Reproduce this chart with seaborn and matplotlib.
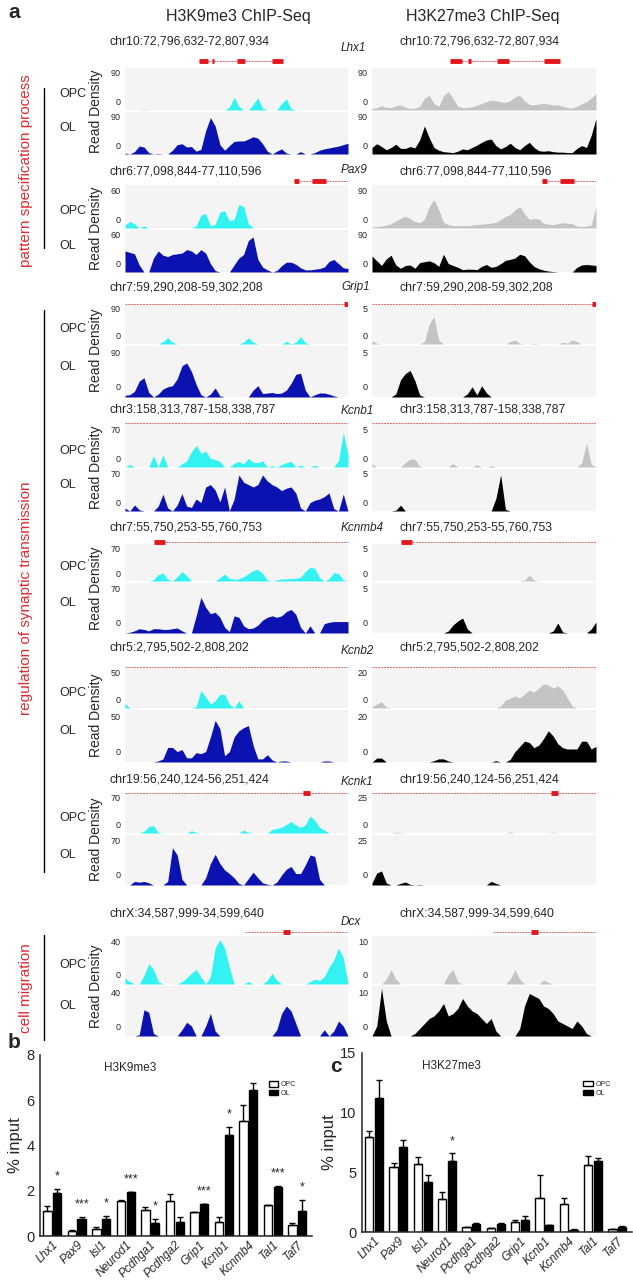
import numpy as np
import pandas as pd
import seaborn as sns
import matplotlib.pyplot as plt

sns.set_style('white')
plt.rcParams['font.family'] = ['Liberation Sans', 'DejaVu Sans']

W, H = 633, 1280

## ChIP-Seq read density tracks (48 bins across each locus)
lhx1_k9_opc = [0, 0, 0, 0, 1, 0, 0, 0, 0, 0,
               0, 0, 0, 0, 0, 0, 0, 0, 0, 0,
               0, 0, 6, 27, 8, 0, 0, 12, 26, 4,
               0, 0, 0, 14, 24, 3, 0, 0, 0, 0,
               0, 0, 0, 0, 0, 0, 0, 0]
lhx1_k9_ol = [2, 0, 5, 17, 15, 3, 0, 1, 0, 0,
              8, 20, 22, 15, 16, 6, 10, 50, 78, 60,
              20, 8, 18, 27, 28, 28, 32, 37, 34, 22,
              6, 0, 6, 11, 2, 0, 0, 5, 0, 0,
              3, 8, 11, 13, 15, 17, 20, 23]
lhx1_k27_opc = [3, 5, 9, 6, 5, 9, 11, 6, 3, 4,
                8, 25, 31, 14, 8, 30, 40, 25, 8, 5,
                5, 7, 10, 14, 18, 21, 20, 18, 16, 20,
                28, 31, 20, 12, 11, 13, 14, 13, 11, 11,
                8, 5, 4, 8, 13, 18, 26, 35]
lhx1_k27_ol = [14, 22, 16, 9, 14, 21, 12, 12, 16, 13,
               30, 60, 35, 14, 8, 5, 4, 3, 6, 11,
               9, 14, 19, 25, 30, 32, 18, 11, 16, 23,
               14, 9, 18, 25, 14, 7, 6, 7, 5, 4,
               4, 3, 3, 12, 18, 14, 40, 76]

pax9_k9_opc = [4, 9, 6, 0, 3, 0, 0, 0, 0, 0,
               0, 0, 0, 0, 0, 3, 18, 20, 3, 5,
               22, 24, 10, 12, 33, 30, 6, 0, 0, 0,
               0, 0, 0, 0, 0, 0, 0, 0, 0, 0,
               0, 0, 0, 0, 0, 0, 0, 0]
pax9_k9_ol = [30, 28, 26, 10, 0, 0, 20, 30, 24, 22,
              25, 26, 27, 32, 30, 25, 32, 27, 12, 2,
              0, 0, 0, 10, 20, 25, 45, 50, 18, 7,
              3, 0, 2, 9, 14, 14, 11, 6, 3, 3,
              4, 5, 7, 15, 18, 12, 6, 5]
pax9_k27_opc = [2, 3, 4, 6, 9, 15, 20, 25, 20, 14,
                11, 18, 45, 60, 38, 12, 7, 5, 5, 5,
                5, 6, 7, 8, 9, 10, 12, 18, 24, 28,
                38, 45, 30, 18, 20, 19, 10, 8, 7, 9,
                11, 10, 9, 4, 3, 4, 6, 45]
pax9_k27_ol = [34, 24, 14, 28, 36, 15, 8, 14, 15, 8,
               20, 22, 24, 20, 12, 38, 18, 14, 10, 5,
               6, 6, 5, 12, 16, 10, 12, 18, 25, 27,
               30, 38, 35, 22, 12, 7, 4, 2, 1, 0,
               0, 0, 0, 10, 15, 16, 15, 14]

grip1_k9_opc = [0, 0, 0, 0, 0, 0, 0, 0, 5, 14,
                4, 0, 0, 0, 0, 0, 0, 0, 0, 0,
                0, 0, 0, 0, 0, 4, 14, 4, 0, 0,
                0, 0, 0, 0, 6, 0, 4, 16, 3, 0,
                0, 0, 0, 0, 0, 0, 0, 0]
grip1_k9_ol = [3, 4, 10, 28, 34, 8, 0, 5, 14, 18,
               20, 32, 55, 60, 45, 22, 4, 0, 5, 16,
               2, 0, 0, 0, 0, 0, 0, 12, 20, 6,
               7, 8, 6, 7, 12, 24, 40, 42, 12, 0,
               4, 7, 7, 5, 2, 0, 0, 0]
grip1_k27_opc = [0.4, 0.1, 0, 0, 0, 0, 0, 0, 0, 0,
                 0, 0.3, 2.5, 3.4, 0.5, 0, 0, 0, 0, 0,
                 0, 0, 0, 0, 0, 0, 0, 0, 0, 0.3,
                 0.5, 0.1, 0, 0, 0.1, 0, 0, 0, 0, 0,
                 0.2, 0.1, 0.5, 0.3, 0, 0, 0, 0]
grip1_k27_ol = [0, 0, 0, 0, 0, 0.3, 1.7, 2.3, 2.6, 1.6,
                0.2, 0, 0, 0, 0, 0, 0, 0, 0, 0,
                0.3, 1.0, 0.2, 1.1, 0.4, 0, 0, 0, 0, 0,
                0, 0, 0, 0, 0, 0, 0, 0, 0, 0,
                0, 0, 0, 0, 0, 0, 0, 0]

kcnb1_k9_opc = [0, 4, 0, 0, 0, 0, 18, 0, 20, 0,
                0, 0, 5, 10, 25, 35, 22, 26, 14, 12,
                9, 0, 0, 6, 9, 5, 14, 8, 7, 10,
                0, 2, 0, 4, 7, 9, 0, 3, 0, 0,
                3, 0, 0, 0, 0, 10, 56, 20]
kcnb1_k9_ol = [5, 0, 10, 2, 0, 0, 0, 8, 28, 5,
               0, 10, 29, 8, 6, 20, 14, 40, 44, 35,
               15, 40, 0, 20, 60, 48, 44, 40, 44, 60,
               50, 44, 40, 34, 38, 40, 30, 5, 0, 14,
               18, 20, 24, 30, 4, 0, 28, 0]
kcnb1_k27_opc = [0.4, 0, 0, 0, 0, 0, 0, 0.5, 0.9, 0.9,
                 0.1, 0, 0, 0, 0, 0, 0, 0.4, 0, 0,
                 0, 0, 0.25, 0, 0, 0.15, 0, 0, 0, 0,
                 0, 0, 0, 0, 0, 0, 0, 0, 0, 0,
                 0, 0, 0, 0, 0.5, 2.8, 0.3, 0]
kcnb1_k27_ol = [0, 0, 0, 0, 0, 0.1, 0.7, 0, 0, 0,
                0, 0, 0, 0, 0, 0, 0, 0, 0, 0,
                0, 0, 0, 0, 0, 0, 1.5, 4.3, 0.2, 0,
                0, 0, 0, 0, 0, 0, 0, 0, 0, 0,
                0, 0, 0, 0, 0, 0, 0, 0]

kcnmb4_k9_opc = [0, 0, 0, 0, 0, 0, 2, 12, 15, 3,
                 0, 8, 18, 10, 0, 0, 0, 0, 0, 0,
                 6, 13, 5, 3, 4, 8, 14, 20, 22, 14,
                 2, 0, 2, 4, 4, 5, 5, 7, 18, 26,
                 24, 6, 0, 4, 16, 14, 2, 0]
kcnmb4_k9_ol = [0, 1, 3, 6, 5, 3, 6, 6, 5, 5,
                6, 7, 3, 0, 0, 24, 50, 36, 27, 29,
                22, 8, 2, 24, 22, 10, 6, 7, 11, 18,
                22, 24, 22, 24, 30, 33, 26, 8, 0, 10,
                0, 0, 13, 15, 16, 16, 16, 16]
kcnmb4_k27_opc = [0, 0, 0, 0, 0, 0, 0, 0, 0, 0,
                  0, 0, 0, 0, 0, 0, 0, 0, 0, 0,
                  0, 0, 0, 0, 0, 0, 0, 0, 0, 0,
                  0, 0, 0.1, 0.8, 0.1, 0, 0, 0, 0, 0,
                  0, 0, 0, 0, 0, 0, 0, 0]
kcnmb4_k27_ol = [0, 0, 0, 0, 0, 0, 0, 0, 0, 0,
                 0, 0, 0, 0, 0, 0, 0.2, 0.8, 1.2, 1.5,
                 0.4, 0, 0, 0, 0, 0, 0, 0, 0, 0,
                 0, 0, 0, 0, 0, 0, 0, 0, 0.2, 1.0,
                 0.1, 0, 0, 0, 0, 0, 0.4, 1.1]

kcnb2_k9_opc = [6, 0, 0, 0, 0, 0, 0, 0, 0, 0,
                0, 0, 0, 0, 0, 2, 22, 14, 5, 9,
                17, 17, 5, 0, 9, 0, 0, 0, 0, 0,
                0, 0, 0, 0, 0, 0, 0, 0, 0, 0,
                0, 0, 0, 0, 0, 0, 0, 0]
kcnb2_k9_ol = [0, 0, 0, 0, 0, 0, 0, 1, 3, 14,
               14, 10, 12, 4, 4, 9, 8, 10, 24, 40,
               32, 6, 10, 24, 30, 33, 35, 16, 3, 3,
               7, 2, 0, 1, 1, 0, 0, 0, 0, 0,
               0, 0, 1, 1, 0, 0, 0, 0]
kcnb2_k27_opc = [0.5, 2, 3, 0.5, 0, 0, 0, 0, 0, 0,
                 0, 0, 0, 0, 0, 0, 0, 0, 0, 0,
                 0, 0, 0, 0, 0, 0, 0, 1, 4, 5,
                 6, 5, 7, 9, 8, 10, 12, 11.5, 10, 11,
                 9, 5, 1, 0, 0, 0, 0, 0]
kcnb2_k27_ol = [0, 1.5, 1.5, 0, 0, 0, 0, 0, 0, 0,
                0, 0, 0, 0.5, 1.2, 1.2, 0.4, 0, 0, 0,
                0, 0, 0, 0, 0, 0, 0.5, 0, 0, 1,
                4, 6, 8, 7.5, 5.5, 6.5, 9, 12, 10, 7,
                5.5, 5, 5, 5, 8, 8, 5, 6]

kcnk1_k9_opc = [0, 0, 0, 0, 3, 11, 13, 1, 0, 0,
                0, 0, 0, 0, 4, 1, 0, 0, 0, 0,
                0, 0, 0, 0, 0, 5, 1, 0, 0, 0,
                0, 6, 8, 10, 15, 20, 14, 10, 14, 30,
                22, 10, 5, 0, 0, 0, 0, 0]
kcnk1_k9_ol = [0, 0, 5, 4, 5, 3, 0, 0, 0, 5,
               52, 42, 8, 0, 0, 0, 0, 10, 30, 43,
               30, 21, 16, 10, 2, 0, 9, 18, 10, 3,
               1, 0, 4, 14, 22, 26, 16, 16, 28, 42,
               40, 8, 0, 0, 0, 0, 0, 0]
kcnk1_k27_opc = [0, 0, 0, 0, 0, 0.5, 0.3, 0, 0, 0,
                 0, 0, 0, 0, 0, 0, 0, 0, 0, 0,
                 0, 0, 0, 0, 0, 0, 0, 0, 0, 0.6,
                 0, 0, 0, 0, 0, 0, 0, 0, 0.4, 0,
                 0, 0, 0, 0, 0, 0, 0, 0]
kcnk1_k27_ol = [1, 6, 7, 1, 0, 0, 0.8, 1.5, 0.3, 0,
                0.2, 0, 0, 0, 0, 0, 0, 0, 0, 0,
                0, 0, 0, 0, 0, 1.8, 0.8, 0, 0, 0,
                0, 0, 0, 0, 0, 0, 0, 0, 0, 0,
                0, 0, 0, 0, 0, 0, 0, 0]

dcx_k9_opc = [5, 2, 0, 0, 7, 17, 12, 2, 0, 0,
              0, 0, 2, 5, 9, 12, 6, 0, 6, 30,
              37, 30, 14, 0, 0, 0, 2, 0, 0, 0,
              3, 9, 3, 0, 0, 0, 0, 0, 0, 2,
              4, 3, 6, 14, 20, 30, 22, 0]
dcx_k9_ol = [0, 0, 0, 1, 21, 19, 2, 0, 0, 0,
             0, 0, 5, 11, 8, 0, 0, 8, 18, 4,
             0, 0, 0, 0, 0, 0, 0, 0, 0, 0,
             0, 0, 5, 18, 24, 20, 10, 0, 0, 0,
             0, 0, 5, 0, 4, 12, 8, 0]
dcx_k27_opc = [0, 0, 0, 1, 3, 1, 0, 0, 0, 0,
               0, 0, 0, 0, 0, 0, 2, 3, 0.5, 0,
               0, 0, 0, 0, 0, 0, 0, 0, 0, 1,
               3, 1, 0, 0, 0, 0, 0.8, 0.3, 0, 0,
               0, 0, 0, 0, 0, 0, 0, 0]
dcx_k27_ol = [0, 2, 9.5, 3, 0, 0, 0, 0, 0, 0.5,
              1.5, 2.5, 3.5, 4, 5, 6.5, 4, 4.5, 5.5, 7.5,
              6, 5, 4.5, 3.5, 2.5, 3.5, 1, 0, 0, 0,
              0, 1.5, 6, 8.5, 8, 7.5, 6, 5.5, 4.5, 3,
              2.5, 2, 1.5, 3, 2, 0.5, 0, 0]

loci = ['Lhx1', 'Pax9', 'Grip1', 'Kcnb1', 'Kcnmb4', 'Kcnb2', 'Kcnk1', 'Dcx']
regions = ['chr10:72,796,632-72,807,934', 'chr6:77,098,844-77,110,596',
           'chr7:59,290,208-59,302,208', 'chr3:158,313,787-158,338,787',
           'chr7:55,750,253-55,760,753', 'chr5:2,795,502-2,808,202',
           'chr19:56,240,124-56,251,424', 'chrX:34,587,999-34,599,640']
k9_max = [90, 60, 90, 70, 70, 50, 70, 40]
k27_max = [90, 90, 5, 5, 5, 20, 25, 10]
k9_opc_tracks = [lhx1_k9_opc, pax9_k9_opc, grip1_k9_opc, kcnb1_k9_opc, kcnmb4_k9_opc, kcnb2_k9_opc, kcnk1_k9_opc, dcx_k9_opc]
k9_ol_tracks = [lhx1_k9_ol, pax9_k9_ol, grip1_k9_ol, kcnb1_k9_ol, kcnmb4_k9_ol, kcnb2_k9_ol, kcnk1_k9_ol, dcx_k9_ol]
k27_opc_tracks = [lhx1_k27_opc, pax9_k27_opc, grip1_k27_opc, kcnb1_k27_opc, kcnmb4_k27_opc, kcnb2_k27_opc, kcnk1_k27_opc, dcx_k27_opc]
k27_ol_tracks = [lhx1_k27_ol, pax9_k27_ol, grip1_k27_ol, kcnb1_k27_ol, kcnmb4_k27_ol, kcnb2_k27_ol, kcnk1_k27_ol, dcx_k27_ol]

# gene models (fraction of locus)
gene_spans = [(0.33, 0.71), (0.76, 1.0), (0.0, 1.0), (0.0, 1.0), (0.13, 1.0), (0.0, 1.0), (0.0, 1.0), (0.54, 1.0)]
gene_exons = [[(0.33, 0.37), (0.39, 0.40), (0.50, 0.54), (0.66, 0.71)], [(0.76, 0.78), (0.84, 0.90)],
              [(0.98, 1.0)], [], [(0.13, 0.18)], [], [(0.80, 0.83)], [(0.71, 0.74)]]
gene_spans_k27 = [(0.35, 0.84)] + gene_spans[1:]
gene_exons_k27 = [[(0.35, 0.40), (0.43, 0.44), (0.56, 0.61), (0.77, 0.84)]] + gene_exons[1:]

## qPCR % input
bar_genes = ['Lhx1', 'Pax9', 'Isl1', 'Neurod1', 'Pcdhga1', 'Pcdhga2', 'Grip1', 'Kcnb1', 'Kcnmb4', 'Tal1', 'Taf7']
k9_opc = [1.1, 0.22, 0.3, 1.56, 1.14, 1.56, 1.05, 0.62, 5.07, 1.36, 0.47]
k9_opc_err = [0.22, 0.03, 0.1, 0.04, 0.15, 0.28, 0.02, 0.22, 0.7, 0.02, 0.12]
k9_ol = [1.91, 0.74, 0.74, 1.93, 0.59, 0.64, 1.41, 4.47, 6.44, 2.18, 1.11]
k9_ol_err = [0.16, 0.1, 0.15, 0.02, 0.16, 0.22, 0.02, 0.36, 0.33, 0.03, 0.47]
k9_stars = ['*', '***', '*', '***', '*', '', '***', '*', '', '***', '*']
k27_opc = [7.98, 5.46, 5.66, 2.75, 0.42, 0.34, 0.81, 2.86, 2.38, 5.63, 0.22]
k27_opc_err = [0.48, 0.34, 0.64, 0.6, 0.04, 0.03, 0.2, 1.9, 0.5, 0.78, 0.03]
k27_ol = [11.2, 7.14, 4.2, 5.94, 0.67, 0.7, 1.04, 0.56, 0.2, 5.94, 0.42]
k27_ol_err = [1.55, 0.56, 0.56, 0.64, 0.05, 0.06, 0.27, 0.03, 0.02, 0.25, 0.05]
k27_stars = ['', '', '', '*', '', '', '', '', '', '', '']


def rect(x0, y0, x1, y1):
    return [x0 / W, 1 - y1 / H, (x1 - x0) / W, (y1 - y0) / H]


def ftext(x, y, s, **kw):
    fig.text(x / W, 1 - y / H, s, **kw)


fig = plt.figure(figsize=(W / 100, H / 100), dpi=100)

track_rows = [(68, 110, 154), (185, 228, 272), (304, 344, 397), (424, 467, 511),
              (544, 581, 633), (668, 708, 762), (793, 833, 885), (936, 984, 1036)]
gene_y = [61, 181, 304, 423, 542, 667, 793, 932]
chr_y = [42, 172, 287, 409, 528, 648, 779, 913]
name_y = [48, 170, 287, 411, 528, 651, 782, 922]

for i in range(8):
    top, mid, bot = track_rows[i]
    cols = [(125, 348, k9_max[i], k9_opc_tracks[i], k9_ol_tracks[i], '#33f2f2', '#0b12b0', gene_spans[i], gene_exons[i]),
            (372, 596, k27_max[i], k27_opc_tracks[i], k27_ol_tracks[i], '#c4c4c4', 'black', gene_spans_k27[i], gene_exons_k27[i])]
    for x0, x1, ymax, opc, ol, c_opc, c_ol, span, exons in cols:
        for (y0, y1), vals, c in [((top, mid), opc, c_opc), ((mid + 2, bot), ol, c_ol)]:
            ax = fig.add_axes(rect(x0, y0, x1, y1))
            ax.set_facecolor('#f4f4f4')
            xs = np.linspace(0, 1, len(vals))
            ax.fill_between(xs, vals, color=c, lw=0)
            ax.set_xlim(0, 1)
            ax.set_ylim(0, ymax)
            ax.set_xticks([])
            ax.set_yticks([])
            sns.despine(ax=ax, left=True, bottom=True)
            ax.text(-0.018, 0.86, str(ymax), transform=ax.transAxes, ha='right', va='center', fontsize=6.5)
            ax.text(-0.018, 0.18, '0', transform=ax.transAxes, ha='right', va='center', fontsize=6.5)
        gax = fig.add_axes(rect(x0, gene_y[i] - 4, x1, gene_y[i] + 4))
        gax.axis('off')
        gax.set_xlim(0, 1)
        gax.set_ylim(-1, 1)
        gax.plot(span, [0, 0], color='#e06666', lw=0.7, ls=(0, (2, 1)))
        for a, b in exons:
            gax.plot([a, b], [0, 0], color='#e3161b', lw=3.5, solid_capstyle='butt')

    ftext(110, chr_y[i], regions[i], ha='left', va='center', fontsize=8.8)
    ftext(400, chr_y[i], regions[i], ha='left', va='center', fontsize=8.8)
    ftext(341, name_y[i], loci[i], ha='left', va='center', fontsize=8.5, style='italic')
    ftext(59, (top + mid) / 2 + 5, 'OPC', ha='left', va='center', fontsize=9)
    ftext(59, (mid + bot) / 2 - 4, 'OL', ha='left', va='center', fontsize=9)
    ftext(96, (top + bot) / 2, 'Read Density', rotation=90, ha='center', va='center', fontsize=10)

ftext(8, 13, 'a', fontsize=15, fontweight='bold', va='center')
ftext(238, 17, 'H3K9me3 ChIP-Seq', ha='center', va='center', fontsize=11.5)
ftext(483, 17, 'H3K27me3 ChIP-Seq', ha='center', va='center', fontsize=11.5)

red = '#dc2a30'
for label, yc, ya, yb in [('pattern specification process', 171, 88, 248),
                          ('regulation of synaptic transmission', 598, 310, 872),
                          ('cell migration', 988, 935, 1040)]:
    ftext(26, yc, label, rotation=90, ha='center', va='center', fontsize=11, color=red)
    fig.add_artist(plt.Line2D([44 / W, 44 / W], [1 - ya / H, 1 - yb / H], color='black', lw=1))


def draw_bars(box, opc, opc_err, ol, ol_err, stars, ymax, ticks, title, leg_pos):
    ax = fig.add_axes(rect(*box))
    df = pd.DataFrame({'gene': bar_genes * 2,
                       'cell': ['OPC'] * len(bar_genes) + ['OL'] * len(bar_genes),
                       'value': opc + ol})
    sns.barplot(data=df, x='gene', y='value', hue='cell', hue_order=['OPC', 'OL'],
                palette={'OPC': 'white', 'OL': 'black'}, edgecolor='black', linewidth=1,
                width=0.8, gap=0.15, errorbar=None, ax=ax)
    xs = np.arange(len(bar_genes))
    ax.errorbar(xs - 0.2, opc, yerr=[np.zeros(len(opc)), opc_err], fmt='none', ecolor='black', elinewidth=1, capsize=2)
    ax.errorbar(xs + 0.2, ol, yerr=[np.zeros(len(ol)), ol_err], fmt='none', ecolor='black', elinewidth=1, capsize=2)
    for x, v, e, s in zip(xs, ol, ol_err, stars):
        if s:
            ax.text(x + 0.2, v + e + 0.035 * ymax, s, ha='center', va='bottom', fontsize=9)
    ax.set_xlim(-0.5, 10.6)
    ax.set_ylim(0, ymax)
    ax.set_yticks(ticks)
    ax.set_yticklabels([str(t) for t in ticks], fontsize=10.5)
    ax.set_xlabel('')
    ax.set_ylabel('% input', fontsize=12, labelpad=2)
    ax.set_xticks(xs)
    ax.set_xticklabels(bar_genes, rotation=45, ha='right', rotation_mode='anchor', style='italic', fontsize=8.5)
    ax.tick_params(axis='y', direction='out', length=3, width=1, pad=1)
    ax.tick_params(axis='x', length=0, pad=2)
    sns.despine(ax=ax)
    for s in ['left', 'bottom']:
        ax.spines[s].set_linewidth(1.1)
    ax.text(0.33, 0.93, title, transform=ax.transAxes, ha='center', va='center', fontsize=8.5)
    ax.legend(loc='upper left', bbox_to_anchor=leg_pos, frameon=False, fontsize=5,
              handlelength=1.3, handleheight=0.8, labelspacing=0.25, borderaxespad=0, handletextpad=0.4)
    return ax


draw_bars((40, 1055, 312, 1236), k9_opc, k9_opc_err, k9_ol, k9_ol_err, k9_stars, 8, [0, 2, 4, 6, 8], 'H3K9me3', (0.83, 0.87))
draw_bars((362, 1053, 632, 1232), k27_opc, k27_opc_err, k27_ol, k27_ol_err, k27_stars, 15, [0, 5, 10, 15], 'H3K27me3', (0.81, 0.86))

ftext(8, 1043, 'b', fontsize=15, fontweight='bold', va='center')
ftext(330, 1067, 'c', fontsize=15, fontweight='bold', va='center')

plt.savefig('out.png', dpi=100)
